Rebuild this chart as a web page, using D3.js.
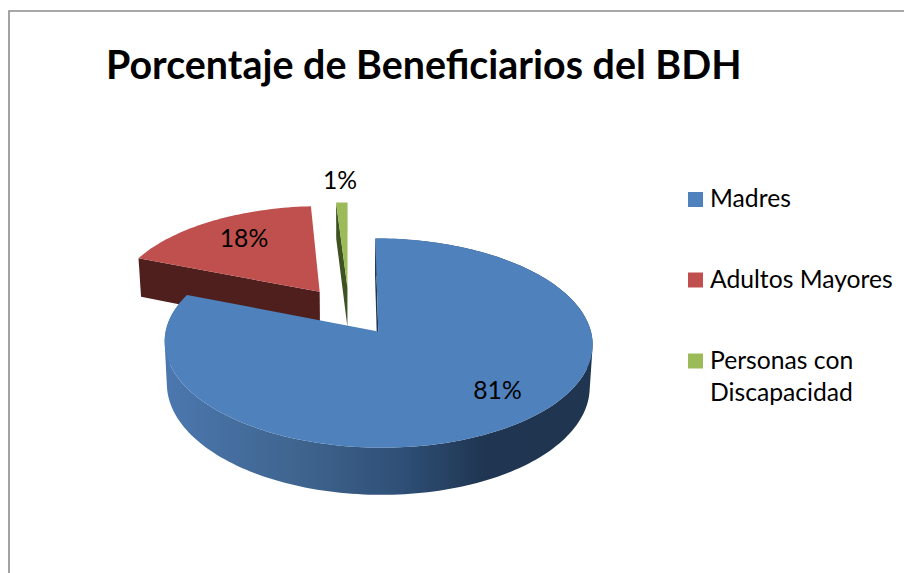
<!DOCTYPE html>
<html><head><meta charset="utf-8">
<script src="https://cdn.jsdelivr.net/npm/d3@7"></script>
<style>html,body{margin:0;padding:0;background:#fff}svg{display:block}text{font-family:Lato,"Open Sans",sans-serif;fill:#000}</style>
</head><body><div id="c"></div>
<script>
const chartTitle = "Porcentaje de Beneficiarios del BDH";
const categories = ["Madres", "Adultos Mayores", "Personas con Discapacidad"];
const values = [81, 18, 1];
const valueLabels = ["81%", "18%", "1%"];
const faceColors = ["#4f81bd", "#c0504d", "#9bbb59"];
const cutWallColors = ["#1f3550", "#4f1f1d", "#3f5222"];
const legendLines = [["Madres"], ["Adultos Mayores"], ["Personas con", "Discapacidad"]];

// layout (not data)
const W = 904, H = 573;
const explode = 0.245, persp = 0.108, shrink = 0.012;
const x = d3.scaleLinear().domain([0, 1]).range([349, 557]);
const y = d3.scaleLinear().domain([0, 1]).range([311, 212.1]);
const depth = d3.scaleLinear().domain([0, 1]).range([0, 41]);
const labelAt = [[497.5, 399], [244, 247], [340, 189]];
const legendRowY = [199, 279.5, 360.5];

const svg = d3.select("#c").append("svg").attr("width", W).attr("height", H);

const grad = svg.append("defs").append("linearGradient").attr("id", "wall")
  .attr("gradientUnits", "userSpaceOnUse")
  .attr("x1", x(-0.86)).attr("x2", x(1.17)).attr("y1", 0).attr("y2", 0);
[[0, "#4b77ae"], [0.3, "#3f658f"], [0.55, "#2f4f76"], [0.75, "#1f3551"], [1, "#1f3550"]]
  .forEach(s => grad.append("stop").attr("offset", s[0]).attr("stop-color", s[1]));

svg.append("path").attr("d", d3.line()([[9, H], [9, 11], [W, 11]]))
  .attr("fill", "none").attr("stroke", "#8c8c8c").attr("stroke-width", 1.6);

const arcs = d3.pie().sort(null).value(d => d)(values);
const dir = a => [Math.sin(a), Math.cos(a)];
const mid = d => (d.startAngle + d.endAngle) / 2;
const project = (px, pz, h) => {
  const den = 1 + persp * pz;
  return [x(px * (1 - shrink * h) / den), y(pz / den) + depth(h) / den];
};
const point = (d, r, a, h) => {
  const m = dir(mid(d)), u = dir(a);
  return project(explode * m[0] + r * u[0], explode * m[1] + r * u[1], h);
};
const arcAngles = d => {
  const n = Math.max(6, Math.round((d.endAngle - d.startAngle) * 40));
  return d3.range(n + 1).map(i => d.startAngle + (d.endAngle - d.startAngle) * i / n);
};
const line = d3.line();
const close = p => line(p) + "Z";
const facePath = d => close([point(d, 0, 0, 0), ...arcAngles(d).map(a => point(d, 1, a, 0))]);
const cutPath = d => close([point(d, 0, 0, 0), point(d, 1, d.startAngle, 0), point(d, 1, d.startAngle, 1), point(d, 0, 0, 1)]);
// outer wall: quads wound the same way in one path, so the silhouette keeps the tangent edges
const wallPath = d => d3.pairs(arcAngles(d)).map(p => {
  const q = [point(d, 1, p[0], 0), point(d, 1, p[1], 0), point(d, 1, p[1], 1), point(d, 1, p[0], 1)];
  return close(d3.polygonArea(q) < 0 ? q.reverse() : q);
}).join("");

const order = [1, 2, 0];
order.forEach(i => {
  const d = arcs[i];
  if (i === 0) svg.append("path").attr("d", wallPath(d)).attr("fill", "url(#wall)");
  svg.append("path").attr("d", cutPath(d)).attr("fill", cutWallColors[i]);
  svg.append("path").attr("d", facePath(d)).attr("fill", faceColors[i]);
});

valueLabels.forEach((t, i) => svg.append("text").attr("x", labelAt[i][0]).attr("y", labelAt[i][1])
  .attr("text-anchor", "middle").attr("font-size", 24.7).text(t));

svg.append("text").attr("x", 106).attr("y", 79).attr("font-size", 39.4).attr("font-weight", 700).text(chartTitle);

categories.forEach((c, i) => {
  svg.append("rect").attr("x", 688).attr("y", legendRowY[i] - 7).attr("width", 15).attr("height", 15).attr("fill", faceColors[i]);
  legendLines[i].forEach((l, j) => svg.append("text").attr("x", 710).attr("y", legendRowY[i] + 8 + j * 32)
    .attr("font-size", 24.7).text(l));
});
</script></body></html>
